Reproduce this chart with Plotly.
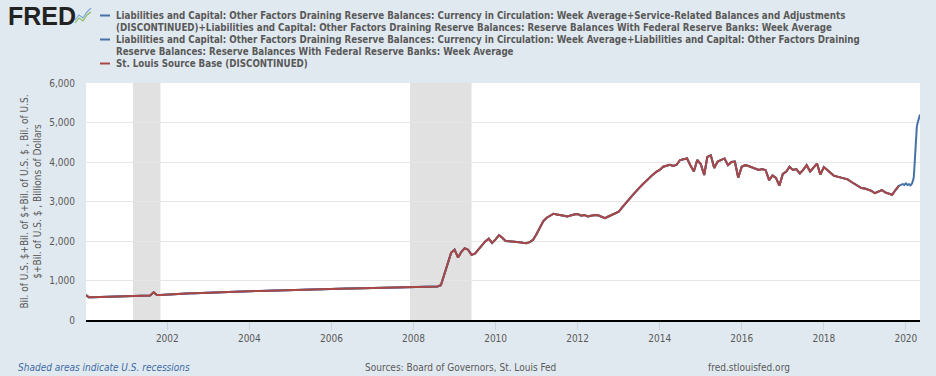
import pandas as pd
import plotly.graph_objects as go

# ---------------- data (billions of dollars, monthly readings) ----------------
source_base_2000 = [640, 578, 575, 577, 580, 582, 584, 585, 586, 588, 592, 598]
source_base_2001 = [598, 600, 603, 607, 610, 614, 617, 620, 700, 632, 636, 642]
source_base_2002 = [648, 650, 655, 660, 664, 668, 672, 675, 678, 682, 686, 690]
source_base_2003 = [693, 695, 698, 702, 705, 708, 712, 715, 717, 720, 724, 728]
source_base_2004 = [730, 731, 733, 737, 740, 743, 746, 748, 749, 752, 755, 760]
source_base_2005 = [760, 761, 763, 766, 768, 771, 773, 775, 777, 779, 782, 787]
source_base_2006 = [788, 789, 791, 794, 796, 799, 800, 801, 802, 804, 807, 812]
source_base_2007 = [812, 812, 814, 817, 818, 820, 822, 825, 823, 825, 828, 835]
source_base_2008 = [835, 833, 835, 838, 840, 842, 845, 847, 880, 1150, 1450, 1700]
source_base_2009 = [1780, 1580, 1720, 1820, 1780, 1650, 1680, 1780, 1870, 1990, 2060, 1950]
source_base_2010 = [2040, 2150, 2080, 2000, 1995, 1990, 1975, 1970, 1955, 1945, 1970, 2030]
source_base_2011 = [2180, 2350, 2500, 2590, 2650, 2690, 2670, 2660, 2640, 2620, 2650, 2670]
source_base_2012 = [2685, 2640, 2660, 2620, 2640, 2660, 2650, 2620, 2580, 2620, 2660, 2690]
source_base_2013 = [2740, 2850, 2960, 3050, 3150, 3260, 3340, 3430, 3520, 3590, 3680, 3750]
source_base_2014 = [3800, 3880, 3900, 3930, 3900, 3930, 4050, 4080, 4090, 3920, 3760, 4050]
source_base_2015 = [3950, 3670, 4130, 4170, 3850, 4010, 4050, 4090, 3920, 4000, 4010, 3600]
source_base_2016 = [3880, 3920, 3900, 3870, 3830, 3800, 3820, 3790, 3540, 3660, 3600, 3400]
source_base_2017 = [3700, 3760, 3880, 3800, 3820, 3710, 3800, 3920, 3760, 3850, 3960, 3680]
source_base_2018 = [3870, 3800, 3740, 3650, 3630, 3600, 3590, 3560, 3500, 3450, 3400, 3340]
source_base_2019 = [3330, 3300, 3270, 3210, 3240, 3290, 3230, 3200, 3170, 3290, 3400]

# Currency + reserve balances continues after the source base was discontinued
extension_dates = ["2019-12-04", "2019-12-18", "2020-01-01", "2020-01-15", "2020-01-29",
                   "2020-02-12", "2020-02-26", "2020-03-04", "2020-03-11", "2020-03-18",
                   "2020-03-25", "2020-04-01", "2020-04-08", "2020-04-15", "2020-04-22",
                   "2020-04-29", "2020-05-06"]
extension_values = [3440, 3420, 3460, 3420, 3440, 3410, 3460, 3520, 3600, 3900,
                    4350, 4700, 4900, 4990, 5050, 5150, 5200]

recession_starts = ["2001-03-01", "2007-12-01"]
recession_ends = ["2001-11-01", "2009-06-01"]

y_ticks = [0, 1000, 2000, 3000, 4000, 5000, 6000]

legend_lines = [
    "Liabilities and Capital: Other Factors Draining Reserve Balances: Currency in Circulation: Week Average+Service-Related Balances and Adjustments",
    "(DISCONTINUED)+Liabilities and Capital: Other Factors Draining Reserve Balances: Reserve Balances With Federal Reserve Banks: Week Average",
    "Liabilities and Capital: Other Factors Draining Reserve Balances: Currency in Circulation: Week Average+Liabilities and Capital: Other Factors Draining",
    "Reserve Balances: Reserve Balances With Federal Reserve Banks: Week Average",
    "St. Louis Source Base (DISCONTINUED)",
]
series_colors = ["#4572a7", "#4572a7", "#aa4643"]
y_title = "Bil. of U.S. $+Bil. of $+Bil. of U.S. $ , Bil. of U.S.<br>$+Bil. of U.S. $ , Billions of Dollars"

# ---------------- assemble ----------------
source_base = (source_base_2000 + source_base_2001 + source_base_2002 + source_base_2003 +
               source_base_2004 + source_base_2005 + source_base_2006 + source_base_2007 +
               source_base_2008 + source_base_2009 + source_base_2010 + source_base_2011 +
               source_base_2012 + source_base_2013 + source_base_2014 + source_base_2015 +
               source_base_2016 + source_base_2017 + source_base_2018 + source_base_2019)
monthly_dates = list(pd.date_range("2000-01-01", periods=len(source_base), freq="MS"))

W, H = 936, 376
L, R, T, B = 86, 16, 83, 56
pw, ph = W - L - R, H - T - B


def px(x):
    return (x - L) / pw


def py(y):
    return (H - B - y) / ph


FONT = "DejaVu Sans Condensed, DejaVu Sans, sans-serif"
GRAY = "#595959"

fig = go.Figure()

fig.add_trace(go.Scatter(x=monthly_dates, y=source_base, mode="lines",
                         line=dict(color=series_colors[0], width=2), showlegend=False))
fig.add_trace(go.Scatter(x=monthly_dates + [pd.Timestamp(d) for d in extension_dates],
                         y=source_base + extension_values, mode="lines",
                         line=dict(color=series_colors[1], width=2), showlegend=False))
fig.add_trace(go.Scatter(x=monthly_dates, y=source_base, mode="lines",
                         line=dict(color=series_colors[2], width=2), showlegend=False))

shapes = []
for s, e in zip(recession_starts, recession_ends):
    shapes.append(dict(type="rect", xref="x", yref="paper", x0=s, x1=e, y0=0, y1=1,
                       fillcolor="#e1e1e1", line=dict(width=0), layer="below"))

key_rows = [15.5, 39.5, 63.5]
for c, yy in zip(series_colors, key_rows):
    shapes.append(dict(type="line", xref="paper", yref="paper", x0=px(100), x1=px(110),
                       y0=py(yy), y1=py(yy), line=dict(color=c, width=2)))

shapes.append(dict(type="path", xref="paper", yref="paper",
                   path="M {} {} L {} {} L {} {} L {} {} L {} {}".format(
                       px(75), py(20), px(79), py(15), px(83), py(18), px(87), py(12), px(91), py(8)),
                   line=dict(color="#7aa7d6", width=1.2)))
shapes.append(dict(type="path", xref="paper", yref="paper",
                   path="M {} {} L {} {} L {} {} L {} {} L {} {}".format(
                       px(75), py(23), px(79), py(18), px(83), py(21), px(87), py(15), px(91), py(12)),
                   line=dict(color="#8fbc5a", width=1.2)))

annotations = []
for txt, yy in zip(legend_lines, [15.5, 27.5, 39.5, 51.5, 63.5]):
    annotations.append(dict(text="<b>" + txt + "</b>", xref="paper", yref="paper",
                            x=px(114), y=py(yy), xanchor="left", yanchor="middle",
                            showarrow=False, font=dict(family=FONT, size=9.7, color=GRAY)))

annotations.append(dict(text="<b>FRED</b>", xref="paper", yref="paper", x=px(6), y=py(16),
                        xanchor="left", yanchor="middle", showarrow=False,
                        font=dict(family="Liberation Sans, Arial, sans-serif", size=25, color="#222222")))

annotations.append(dict(text="<i>Shaded areas indicate U.S. recessions</i>", xref="paper", yref="paper",
                        x=px(16), y=py(367), xanchor="left", yanchor="middle", showarrow=False,
                        font=dict(family=FONT, size=10, color="#3d6aa5")))
annotations.append(dict(text="Sources: Board of Governors, St. Louis Fed", xref="paper", yref="paper",
                        x=px(363), y=py(367), xanchor="left", yanchor="middle", showarrow=False,
                        font=dict(family=FONT, size=10, color=GRAY)))
annotations.append(dict(text="fred.stlouisfed.org", xref="paper", yref="paper",
                        x=px(706), y=py(367), xanchor="left", yanchor="middle", showarrow=False,
                        font=dict(family=FONT, size=10, color=GRAY)))

fig.update_layout(
    width=W, height=H,
    margin=dict(l=L, r=R, t=T, b=B),
    paper_bgcolor="#e1e9f0",
    plot_bgcolor="#ffffff",
    font=dict(family=FONT, size=10, color=GRAY),
    shapes=shapes,
    annotations=annotations,
    showlegend=False,
    xaxis=dict(
        range=["2000-01-08", "2020-05-06"],
        tickformat="%Y", dtick="M24", tick0="2002-01-01",
        showgrid=False, ticks="outside", ticklen=8, tickcolor="#c9d3de",
        showline=True, linecolor="#000000", linewidth=2,
        tickfont=dict(family=FONT, size=10, color=GRAY),
        zeroline=False,
    ),
    yaxis=dict(
        range=[0, 6000], tickvals=y_ticks, tickformat=",",
        showgrid=True, gridcolor="#e6e6e6", gridwidth=1,
        zeroline=False, ticks="", ticklabelstandoff=10,
        tickfont=dict(family=FONT, size=10, color=GRAY),
        title=dict(text=y_title, font=dict(family=FONT, size=10, color=GRAY), standoff=5),
    ),
)

fig.write_html("out.html", config={"displayModeBar": False},
               post_script="document.body.style.margin='0';document.body.style.overflow='hidden';")
